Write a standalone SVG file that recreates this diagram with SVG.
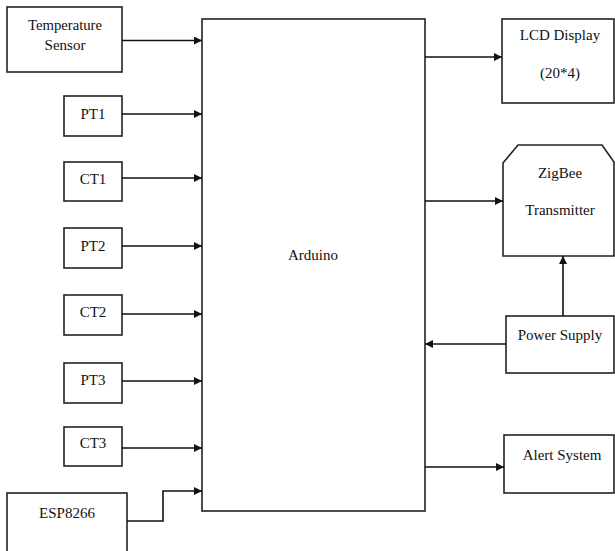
<svg xmlns="http://www.w3.org/2000/svg" width="615" height="551" viewBox="0 0 615 551">
<style>
.box{fill:#fff;stroke:#222;stroke-width:1.6}
.lbl{font-family:'Liberation Serif','Times New Roman',serif;font-size:15px;fill:#111;text-anchor:middle}
.con{fill:none;stroke:#111;stroke-width:1.6}
</style>
<defs>
<marker id="ah" viewBox="0 0 10 10" refX="10" refY="5" markerWidth="9" markerHeight="8" markerUnits="userSpaceOnUse" orient="auto">
<path d="M0,0 L10,5 L0,10 z" fill="#111"/>
</marker>
</defs>
<rect width="615" height="551" fill="#fff"/>
<g id="arduino"><rect class="box" x="202" y="19" width="223" height="492"/><text class="lbl" x="313" y="260">Arduino</text></g>
<g id="temp"><rect class="box" x="7" y="7" width="115" height="65"/><text class="lbl" x="65" y="30" textLength="74" lengthAdjust="spacingAndGlyphs">Temperature</text><text class="lbl" x="65" y="50">Sensor</text></g>
<g id="pt1"><rect class="box" x="64" y="96" width="58" height="40"/><text class="lbl" x="93" y="119">PT1</text></g>
<g id="ct1"><rect class="box" x="64" y="162" width="58" height="39"/><text class="lbl" x="93" y="184">CT1</text></g>
<g id="pt2"><rect class="box" x="64" y="228" width="58" height="40"/><text class="lbl" x="93" y="251">PT2</text></g>
<g id="ct2"><rect class="box" x="64" y="295" width="58" height="40"/><text class="lbl" x="93" y="317">CT2</text></g>
<g id="pt3"><rect class="box" x="64" y="363" width="58" height="40"/><text class="lbl" x="93" y="385">PT3</text></g>
<g id="ct3"><rect class="box" x="64" y="427" width="58" height="39"/><text class="lbl" x="93" y="448">CT3</text></g>
<g id="esp"><rect class="box" x="7" y="493" width="120" height="70"/><text class="lbl" x="67" y="518">ESP8266</text></g>
<g id="lcd"><rect class="box" x="502" y="19" width="112" height="84"/><text class="lbl" x="560" y="40">LCD Display</text><text class="lbl" x="560" y="78">(20*4)</text></g>
<g id="zigbee"><path class="box" d="M503,163 L518,145 L602,145 L614,162 L614,256 L503,256 Z"/><text class="lbl" x="560" y="178">ZigBee</text><text class="lbl" x="560" y="215">Transmitter</text></g>
<g id="power"><rect class="box" x="506" y="316" width="108" height="57"/><text class="lbl" x="560" y="340">Power Supply</text></g>
<g id="alert"><rect class="box" x="504" y="435" width="110" height="58"/><text class="lbl" x="562" y="460">Alert System</text></g>
<g id="connectors">
<path class="con" d="M122,40.5 H202" marker-end="url(#ah)"/>
<path class="con" d="M122,114 H202" marker-end="url(#ah)"/>
<path class="con" d="M122,178 H202" marker-end="url(#ah)"/>
<path class="con" d="M122,246 H202" marker-end="url(#ah)"/>
<path class="con" d="M122,314 H202" marker-end="url(#ah)"/>
<path class="con" d="M122,381 H202" marker-end="url(#ah)"/>
<path class="con" d="M122,448 H202" marker-end="url(#ah)"/>
<path class="con" d="M127,521 H163 V491 H202" marker-end="url(#ah)"/>
<path class="con" d="M425,57 H502" marker-end="url(#ah)"/>
<path class="con" d="M425,201 H503" marker-end="url(#ah)"/>
<path class="con" d="M563,316 V256" marker-end="url(#ah)"/>
<path class="con" d="M506,344 H425" marker-end="url(#ah)"/>
<path class="con" d="M425,467 H504" marker-end="url(#ah)"/>
</g>
</svg>
